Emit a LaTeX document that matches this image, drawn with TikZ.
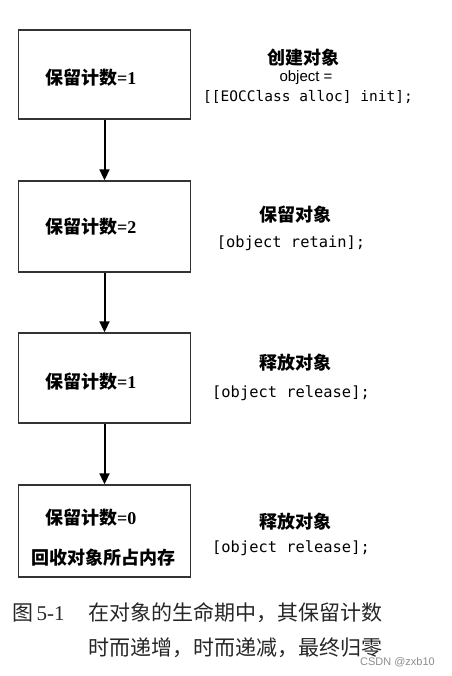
\documentclass[tikz,border=0pt]{standalone}
\usepackage{fontspec}
\setmainfont{Liberation Serif}
\newfontfamily\cjk{Noto Sans CJK SC}
\newfontfamily\codefont{DejaVu Sans Mono}
\newfontfamily\sansf{Liberation Sans}
\usetikzlibrary{arrows.meta}
\begin{document}
\begin{tikzpicture}[x=1pt,y=-1pt,
  box/.style={draw=black!80, line width=1.4pt, minimum width=172pt, inner sep=0pt},
  cnt/.style={inner sep=0pt, anchor=west, font=\cjk\bfseries\fontsize{18}{18}\selectfont},
  head/.style={inner sep=0pt, font=\cjk\bfseries\fontsize{18}{18}\selectfont},
  code/.style={inner sep=0pt, font=\codefont\fontsize{15.4}{15.4}\selectfont},
  captext/.style={inner sep=0pt, anchor=west, font=\cjk\fontsize{21}{21}\selectfont, text=black!85},
  arr/.style={-{Triangle[length=11pt,width=10pt]}, line width=2pt}
]
\useasboundingbox (0,0) rectangle (451,676);
% boxes
\node[box, minimum height=89pt] (b1) at (104.5,74.5) {};
\node[box, minimum height=91pt] (b2) at (104.5,226.5) {};
\node[box, minimum height=90pt] (b3) at (104.5,378) {};
\node[box, minimum height=92pt] (b4) at (104.5,531) {};
% box texts
\node[cnt] (t1) at (45,78) {保留计数\rmfamily\bfseries =1};
\node[cnt] (t2) at (45,227) {保留计数\rmfamily\bfseries =2};
\node[cnt] (t3) at (45,382) {保留计数\rmfamily\bfseries =1};
\node[cnt] (t4) at (45,518) {保留计数\rmfamily\bfseries =0};
\node[head] (t5) at (103.5,558) {回收对象所占内存};
% arrows
\draw[arr] (b1.south) -- (b2.north);
\draw[arr] (b2.south) -- (b3.north);
\draw[arr] (b3.south) -- (b4.north);
% right labels
\node[head] (r1) at (303,58) {创建对象};
\node[inner sep=0pt, font=\sansf\fontsize{15}{15}\selectfont] (r1b) at (306,78) {object =};
\node[code, font=\codefont\fontsize{14.5}{14.5}\selectfont] (r1c) at (308,97) {[[EOCClass alloc] init];};
\node[head] (r2) at (295,215) {保留对象};
\node[code] (r2b) at (291,243) {[object retain];};
\node[head] (r3) at (295,363) {释放对象};
\node[code] (r3b) at (291,393) {[object release];};
\node[head] (r4) at (295,522) {释放对象};
\node[code] (r4b) at (291,548) {[object release];};
% caption
\node[captext] (c0) at (12,613) {图\,\rmfamily 5-1};
\node[captext] (c1) at (88,613) {在对象的生命期中，其保留计数};
\node[captext] (c2) at (88,648) {时而递增，时而递减，最终归零};
\node[inner sep=0pt, anchor=east, text=black!45, font=\sansf\fontsize{11}{11}\selectfont] (wm) at (435,662) {CSDN @zxb10};
\end{tikzpicture}
\end{document}
